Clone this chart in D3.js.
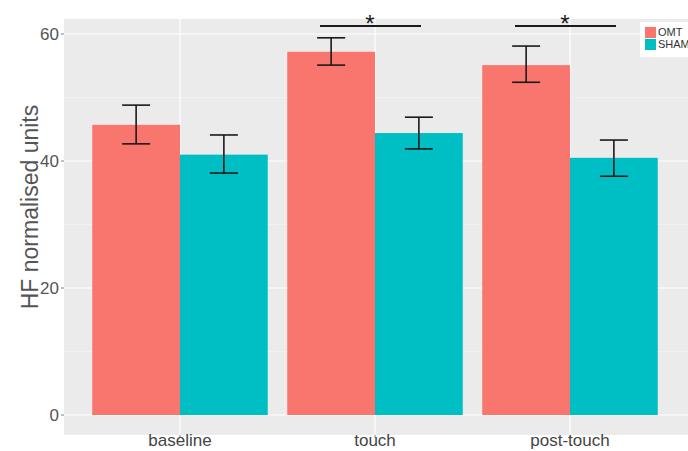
<!DOCTYPE html>
<html>
<head>
<meta charset="utf-8">
<script src="https://cdn.jsdelivr.net/npm/d3@7"></script>
<style>
  body { margin: 0; background: #fff; }
  text { font-family: "Liberation Sans", Arial, sans-serif; }
</style>
</head>
<body>
<div class="chart"></div>
<script>
// données
const categories = ["baseline", "touch", "post-touch"];
const groups = ["OMT", "SHAM"];
const omtMean = [45.7, 57.2, 55.1];
const omtLow = [42.7, 55.1, 52.4];
const omtHigh = [48.8, 59.4, 58.1];
const shamMean = [41.0, 44.4, 40.5];
const shamLow = [38.1, 41.9, 37.6];
const shamHigh = [44.1, 46.9, 43.3];
const yTicks = [0, 20, 40, 60];
const yMinor = [10, 30, 50];
const signif = ["touch", "post-touch"];

const colors = { OMT: "#F8766D", SHAM: "#00BFC4" };

// on regroupe en lignes
const rows = [];
categories.forEach((c, i) => {
    rows.push({ cat: c, grp: "OMT", v: omtMean[i], lo: omtLow[i], hi: omtHigh[i] });
    rows.push({ cat: c, grp: "SHAM", v: shamMean[i], lo: shamLow[i], hi: shamHigh[i] });
});

const W = 688, H = 451;
const panel = { left: 64, right: 688, top: 19, bottom: 435 };

const svg = d3.select(".chart").append("svg")
    .attr("width", W).attr("height", H);

// échelles : une catégorie = 195 px, expansion de 0.6 de chaque côté
const x = d3.scalePoint().domain(categories).range([180, 570]);
const step = x.step();
const inner = d3.scaleBand().domain(groups).range([-step * 0.45, step * 0.45]);

const y = d3.scaleLinear().domain([0, 60]).range([415, 34]);

// fond du panneau
svg.append("rect")
    .attr("x", panel.left).attr("y", panel.top)
    .attr("width", panel.right - panel.left).attr("height", panel.bottom - panel.top)
    .attr("fill", "#EBEBEB");

// grille
svg.selectAll(".minor").data(yMinor).enter().append("line")
    .attr("x1", panel.left).attr("x2", panel.right)
    .attr("y1", d => y(d)).attr("y2", d => y(d))
    .attr("stroke", "#F5F5F5").attr("stroke-width", 0.6);
svg.selectAll(".major").data(yTicks).enter().append("line")
    .attr("x1", panel.left).attr("x2", panel.right)
    .attr("y1", d => y(d)).attr("y2", d => y(d))
    .attr("stroke", "#FFFFFF").attr("stroke-width", 1.2);
svg.selectAll(".vgrid").data(categories).enter().append("line")
    .attr("x1", d => x(d)).attr("x2", d => x(d))
    .attr("y1", panel.top).attr("y2", panel.bottom)
    .attr("stroke", "#FFFFFF").attr("stroke-width", 1.2);

// barres
svg.selectAll(".bar").data(rows).enter().append("rect")
    .attr("x", d => x(d.cat) + inner(d.grp))
    .attr("width", inner.bandwidth())
    .attr("y", d => y(d.v))
    .attr("height", d => y(0) - y(d.v))
    .attr("fill", d => colors[d.grp]);

// barres d'erreur
const capW = 14;
const mid = d => x(d.cat) + inner(d.grp) + inner.bandwidth() / 2;
const eb = svg.selectAll(".eb").data(rows).enter().append("g")
    .attr("stroke", "#1a1a1a").attr("stroke-width", 1.6);
eb.append("line")
    .attr("x1", mid).attr("x2", mid)
    .attr("y1", d => y(d.lo)).attr("y2", d => y(d.hi));
eb.append("line")
    .attr("x1", d => mid(d) - capW).attr("x2", d => mid(d) + capW)
    .attr("y1", d => y(d.lo)).attr("y2", d => y(d.lo));
eb.append("line")
    .attr("x1", d => mid(d) - capW).attr("x2", d => mid(d) + capW)
    .attr("y1", d => y(d.hi)).attr("y2", d => y(d.hi));

// significativité
svg.selectAll(".sig").data(signif).enter().append("line")
    .attr("x1", d => x(d) - 55).attr("x2", d => x(d) + 46)
    .attr("y1", 26).attr("y2", 26)
    .attr("stroke", "#1a1a1a").attr("stroke-width", 1.8);
svg.selectAll(".star").data(signif).enter().append("text")
    .attr("x", d => x(d) - 5).attr("y", 32)
    .attr("text-anchor", "middle")
    .attr("font-size", 24).attr("fill", "#1a1a1a")
    .text("*");

// axe y
svg.selectAll(".ytick").data(yTicks).enter().append("line")
    .attr("x1", panel.left - 3).attr("x2", panel.left)
    .attr("y1", d => y(d)).attr("y2", d => y(d))
    .attr("stroke", "#7f7f7f");
svg.selectAll(".ylab").data(yTicks).enter().append("text")
    .attr("x", panel.left - 5).attr("y", d => y(d) + 6)
    .attr("text-anchor", "end").attr("font-size", 17)
    .attr("fill", "#555").text(d => d);

svg.append("text")
    .attr("transform", "translate(38,207) rotate(-90)")
    .attr("text-anchor", "middle").attr("font-size", 23)
    .attr("fill", "#555").text("HF normalised units");

// axe x
svg.selectAll(".xtick").data(categories).enter().append("line")
    .attr("x1", d => x(d)).attr("x2", d => x(d))
    .attr("y1", panel.bottom).attr("y2", panel.bottom + 3)
    .attr("stroke", "#7f7f7f");
svg.selectAll(".xlab").data(categories).enter().append("text")
    .attr("x", d => x(d)).attr("y", 446)
    .attr("text-anchor", "middle").attr("font-size", 17)
    .attr("fill", "#444").text(d => d);

// légende
const leg = svg.append("g").attr("transform", "translate(640,22)");
leg.append("rect").attr("width", 50).attr("height", 35).attr("fill", "#fff");
leg.selectAll(".key").data(groups).enter().append("rect")
    .attr("x", 5).attr("y", (d, i) => 5 + i * 12)
    .attr("width", 11).attr("height", 11)
    .attr("fill", d => colors[d]);
leg.selectAll(".ltxt").data(groups).enter().append("text")
    .attr("x", 18).attr("y", (d, i) => 14 + i * 12)
    .attr("font-size", 11).attr("fill", "#333")
    .text(d => d);
</script>
</body>
</html>
